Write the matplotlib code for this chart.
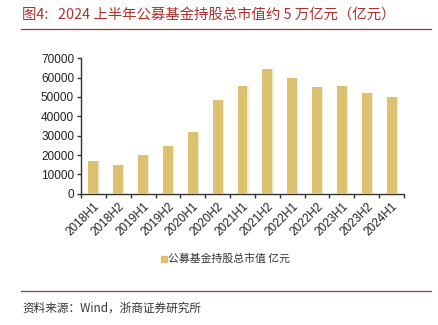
import matplotlib
matplotlib.use("Agg")
import matplotlib.pyplot as plt
from matplotlib.lines import Line2D
from matplotlib.patches import Rectangle
import numpy as np

plt.rcParams['font.family'] = ['Liberation Sans', 'Noto Sans CJK SC', 'DejaVu Sans']

periods = ['2018H1', '2018H2', '2019H1', '2019H2', '2020H1', '2020H2', '2021H1',
           '2021H2', '2022H1', '2022H2', '2023H1', '2023H2', '2024H1']
market_value = [16800, 14700, 20000, 24500, 32000, 48600, 55700,
                64300, 59800, 55300, 55500, 51900, 50000]

title = '图4:   2024 上半年公募基金持股总市值约 5 万亿元（亿元）'
legend_label = '公募基金持股总市值 亿元'
source = '资料来源：Wind，浙商证券研究所'

W, H = 439, 325
fig = plt.figure(figsize=(W / 100, H / 100), dpi=100)
ax = fig.add_axes([81 / W, 1 - 193.7 / H, 323 / W, 135.4 / H])

x = np.arange(len(periods))
bar_c = '#DCC170'
# faint highlight on the right side of each bar
ax.bar(x + 0.05, market_value, width=0.4, color='#F4EBCF', zorder=2)
ax.bar(x, market_value, width=0.4, color=bar_c, zorder=3)

ax.set_xlim(-0.5, len(periods) - 0.5)
ax.set_ylim(0, 70000)
ax.set_yticks(np.arange(0, 70001, 10000))
ax.set_xticks(np.arange(len(periods) + 1) - 0.5)
ax.set_xticklabels([])
ax.set_xticks(x, minor=True)
ax.set_xticklabels(periods, minor=True, rotation=45, ha='right',
                   rotation_mode='anchor', fontsize=8.5, color='#222222')
ax.tick_params(axis='x', which='minor', length=0, pad=5)
ax.tick_params(axis='x', which='major', length=3, width=1, color='#333333')
ax.tick_params(axis='y', length=3, width=1, color='#333333', labelsize=8.5,
               labelcolor='#222222', pad=2)

for s in ['top', 'right']:
    ax.spines[s].set_visible(False)
for s in ['left', 'bottom']:
    ax.spines[s].set_color('#333333')
    ax.spines[s].set_linewidth(1)

red = '#B0302C'
cjk = ['Noto Sans CJK SC', 'DejaVu Sans']
fig.text(22 / W, 1 - 15 / H, title, color=red, fontsize=10.4, va='center',
         ha='left', family=cjk)
fig.add_artist(Line2D([21 / W, 431 / W], [1 - 29 / H, 1 - 29 / H], color=red, lw=0.9))
fig.add_artist(Line2D([21 / W, 431 / W], [1 - 291 / H, 1 - 291 / H], color=red, lw=0.9))
fig.text(22 / W, 1 - 308 / H, source, color='#333333', fontsize=8.4, va='center',
         ha='left', family=cjk)

fig.add_artist(Rectangle((161 / W, 1 - 261.5 / H), 5.5 / W, 5.5 / H, color=bar_c,
                         transform=fig.transFigure))
fig.text(168 / W, 1 - 259 / H, legend_label, color='#333333', fontsize=7.8,
         va='center', ha='left', family=cjk)

fig.savefig('out.png', dpi=100)
